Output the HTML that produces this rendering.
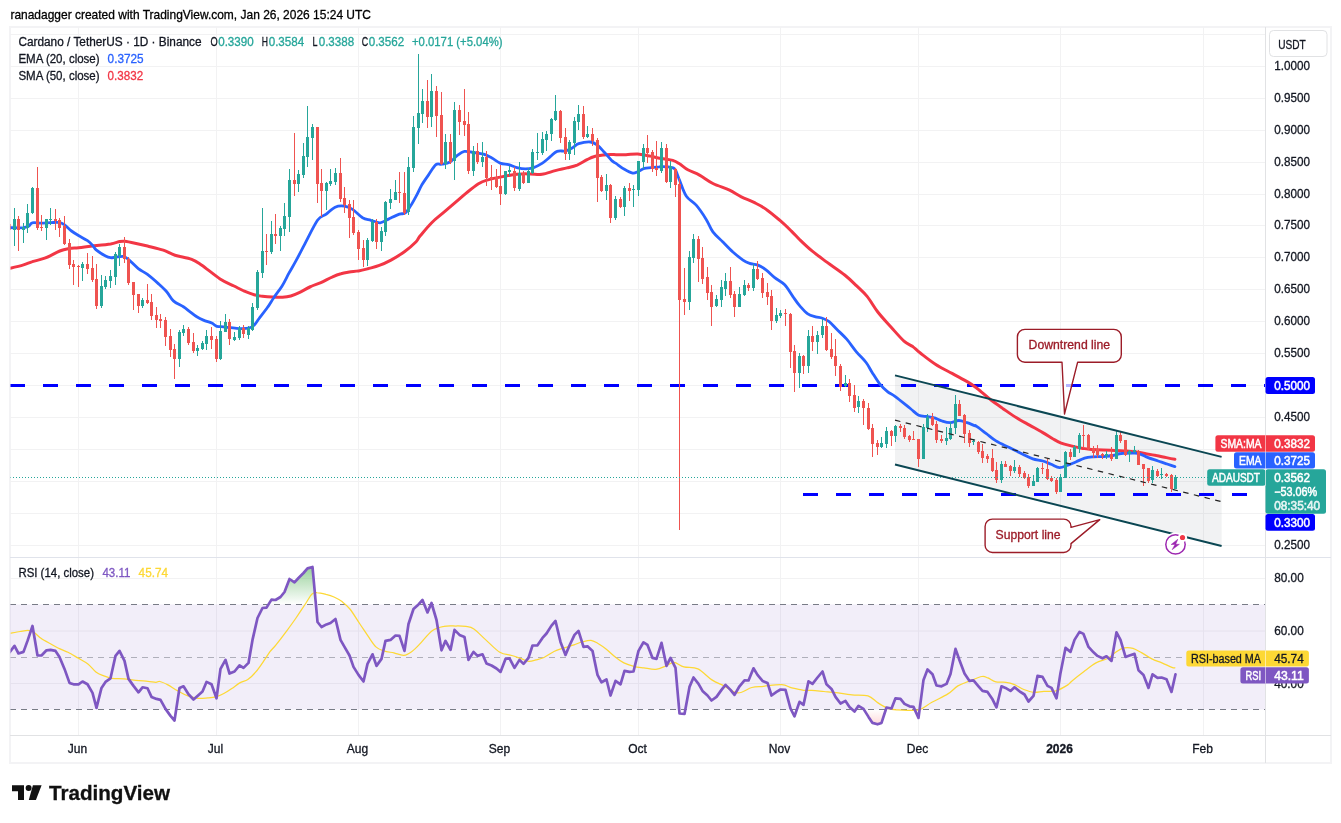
<!DOCTYPE html>
<html lang="en"><head><meta charset="utf-8"><title>ADAUSDT chart</title><style>html,body{margin:0;padding:0;background:#fff}svg{display:block}</style></head><body>
<svg width="1341" height="823" viewBox="0 0 1341 823" font-family='"Liberation Sans", Arial, sans-serif'>
<defs><clipPath id="cm"><rect x="10.5" y="27.5" width="1255" height="530"/></clipPath><clipPath id="cr"><rect x="10.5" y="558" width="1255" height="177.5"/></clipPath>
<linearGradient id="gg" x1="0" y1="565" x2="0" y2="604.5" gradientUnits="userSpaceOnUse"><stop offset="0" stop-color="#4caf50" stop-opacity="0.6"/><stop offset="1" stop-color="#4caf50" stop-opacity="0"/></linearGradient>
<linearGradient id="rg" x1="0" y1="709.5" x2="0" y2="730" gradientUnits="userSpaceOnUse"><stop offset="0" stop-color="#ff5252" stop-opacity="0"/><stop offset="1" stop-color="#ff5252" stop-opacity="0.3"/></linearGradient></defs>
<rect width="1341" height="823" fill="#fff"/>
<rect x="10" y="27" width="1321" height="736" fill="none" stroke="#f3f3f5" stroke-width="2"/>
<text x="10.4" y="19" font-size="13" fill="#000" stroke="#000" stroke-width="0.3" text-anchor="start" font-weight="normal" textLength="360.6" lengthAdjust="spacingAndGlyphs">ranadagger created with TradingView.com, Jan 26, 2026 15:24 UTC</text>
<path d="M78.5,27V735.5M216.5,27V735.5M358.5,27V735.5M500.5,27V735.5M638.5,27V735.5M780.5,27V735.5M918.5,27V735.5M1060.5,27V735.5M1203.5,27V735.5M10,34.5H1265.5M10,66.5H1265.5M10,98.5H1265.5M10,130.5H1265.5M10,162.5H1265.5M10,194.5H1265.5M10,225.5H1265.5M10,257.5H1265.5M10,289.5H1265.5M10,321.5H1265.5M10,353.5H1265.5M10,385.5H1265.5M10,417.5H1265.5M10,449.5H1265.5M10,481.5H1265.5M10,513.5H1265.5M10,545.5H1265.5M10,578.5H1265.5M10,631.0H1265.5M10,683.5H1265.5" stroke="#f2f2f3" stroke-width="1" fill="none"/>
<rect x="10" y="604.5" width="1255.5" height="105.0" fill="#7e57c2" fill-opacity="0.1"/>
<path d="M895,375.4L1221.6,456.9L1221.6,546.0L895,464.5Z" fill="#787b86" fill-opacity="0.1"/>
<g clip-path="url(#cm)">
<path d="M10,385.5H1265.5" stroke="#0000ff" stroke-width="3" stroke-dasharray="15 18" fill="none"/>
<path d="M803,494.5H1265.5" stroke="#0000ff" stroke-width="3" stroke-dasharray="15 18" fill="none"/>
<path d="M10.3,268.2C12.5,267.7 19.9,266.0 23.5,264.9C27.2,263.8 28.9,262.7 32.4,261.6C35.9,260.4 40.2,260.0 44.7,258.2C49.3,256.5 55.7,252.7 59.8,251.0C63.9,249.4 66.2,249.1 69.3,248.5C72.4,248.0 74.6,248.1 78.5,247.7C82.4,247.3 87.2,246.7 92.5,246.0C97.9,245.4 106.0,244.6 110.6,243.9C115.1,243.1 117.5,241.9 119.9,241.5C122.3,241.1 122.4,241.1 124.9,241.3C127.4,241.6 131.2,242.4 135.0,243.2C138.7,244.0 142.7,244.9 147.5,246.0C152.2,247.2 158.8,248.7 163.3,250.2C167.9,251.7 170.3,253.7 175.0,255.2C179.8,256.7 187.3,257.7 191.7,259.4C196.2,261.1 197.0,262.0 201.8,265.2C206.5,268.5 214.8,275.5 220.1,278.9C225.5,282.4 230.0,284.0 234.0,286.0C238.0,288.0 240.7,289.5 244.0,291.0C247.4,292.4 251.0,293.9 254.1,294.8C257.1,295.7 259.4,295.9 262.4,296.3C265.5,296.7 269.1,297.0 272.4,297.1C275.8,297.3 279.4,297.5 282.5,297.3C285.5,297.1 288.0,296.8 290.8,296.0C293.6,295.2 295.8,294.2 299.2,292.6C302.5,291.1 307.2,288.1 310.9,286.5C314.5,284.8 317.3,284.2 320.9,282.6C324.5,281.0 329.2,278.2 332.6,276.8C335.9,275.3 338.1,274.5 340.9,273.8C343.7,273.0 346.4,272.6 349.3,272.1C352.2,271.6 355.4,271.5 358.5,270.9C361.5,270.4 364.2,269.7 367.7,268.8C371.1,267.8 375.4,266.9 379.3,265.4C383.2,264.0 386.9,262.3 391.0,260.1C395.2,257.8 400.2,254.8 404.4,251.7C408.6,248.7 413.5,244.3 416.1,241.7C418.7,239.1 417.4,239.2 420.0,236.0C422.7,232.9 427.8,226.6 431.7,222.7C435.6,218.8 439.5,216.0 443.4,212.7C447.3,209.3 451.2,206.0 455.1,202.6C459.0,199.3 462.9,195.8 466.8,192.6C470.7,189.5 475.2,185.9 478.5,183.8C481.8,181.7 483.2,181.2 486.9,180.1C490.5,179.0 495.2,178.1 500.2,177.1C505.2,176.1 511.9,174.8 516.9,174.2C521.9,173.7 526.1,173.9 530.3,173.9C534.5,173.9 537.8,174.8 542.0,174.2C546.2,173.7 551.2,171.6 555.3,170.6C559.5,169.5 563.4,168.8 567.0,167.9C570.7,167.0 573.7,166.4 577.1,165.1C580.4,163.7 584.3,161.1 587.1,159.7C589.9,158.3 591.0,157.5 593.8,156.7C596.5,155.9 600.7,155.4 603.8,155.0C606.9,154.7 610.1,154.6 612.1,154.5C614.2,154.5 613.7,154.7 616.0,154.7C618.3,154.8 622.4,154.9 626.0,154.7C629.6,154.6 633.8,153.7 637.7,153.9C641.6,154.1 645.5,155.2 649.4,155.9C653.3,156.7 657.2,157.7 661.1,158.4C665.0,159.2 669.7,159.5 672.8,160.4C675.9,161.3 677.0,162.2 679.5,163.8C682.0,165.3 684.5,167.9 687.8,169.8C691.2,171.7 695.3,172.8 699.5,175.1C703.7,177.4 707.9,181.0 712.9,183.5C717.9,186.0 724.9,187.9 729.6,190.1C734.3,192.4 737.1,194.7 741.3,196.8C745.5,198.9 750.5,200.6 754.6,202.7C758.8,204.8 762.2,206.4 766.3,209.4C770.5,212.3 775.5,216.6 779.7,220.2C783.9,223.8 788.0,227.8 791.4,231.1C794.8,234.4 796.6,236.7 800.0,240.0C803.4,243.3 807.2,247.0 811.7,250.7C816.2,254.4 821.7,258.3 827.2,262.4C832.7,266.4 839.8,271.1 844.7,275.0C849.6,278.9 852.7,282.1 856.4,285.7C860.1,289.3 863.5,292.0 867.1,296.4C870.7,300.8 873.8,306.8 877.8,312.0C881.8,317.2 887.0,322.6 891.4,327.5C895.8,332.4 900.4,337.9 904.0,341.1C907.6,344.3 910.1,344.7 912.8,346.6C915.5,348.6 916.2,349.9 920.0,352.8C923.8,355.7 930.0,360.8 935.4,364.2C940.7,367.7 946.5,370.4 952.1,373.4C957.7,376.5 964.6,380.1 968.8,382.6C973.0,385.1 973.4,385.6 977.2,388.5C980.9,391.4 986.8,396.7 991.0,400.0C995.3,403.3 998.6,405.4 1002.7,408.4C1006.9,411.3 1011.6,414.8 1016.1,417.5C1020.5,420.3 1025.0,422.6 1029.5,425.1C1033.9,427.6 1038.9,430.3 1042.8,432.6C1046.7,434.9 1049.8,437.0 1052.8,438.8C1055.9,440.5 1058.1,441.9 1061.2,443.1C1064.3,444.3 1067.6,445.0 1071.2,445.9C1074.8,446.8 1079.3,447.8 1082.9,448.4C1086.5,449.1 1089.6,449.3 1092.9,449.6C1096.3,449.9 1099.3,450.0 1103.0,450.1C1106.6,450.3 1110.7,450.3 1114.6,450.4C1118.5,450.6 1122.7,450.7 1126.3,450.9C1130.0,451.2 1133.0,451.6 1136.4,452.1C1139.7,452.6 1143.0,453.2 1146.4,453.8C1149.7,454.3 1153.1,454.8 1156.4,455.5C1159.7,456.1 1163.3,457.0 1166.4,457.6C1169.5,458.3 1173.5,459.0 1174.9,459.2" stroke="#f23645" stroke-width="3" fill="none" stroke-linejoin="round" stroke-linecap="round"/>
<path d="M10.3,227.7C12.5,227.7 20.4,227.9 23.5,227.7C26.6,227.4 27.4,226.8 28.9,226.0C30.4,225.2 30.3,223.3 32.4,222.8C34.5,222.3 38.4,223.2 41.4,223.1C44.4,223.1 47.5,222.7 50.6,222.6C53.7,222.6 57.4,222.2 59.8,222.6C62.1,223.1 62.8,223.8 64.8,225.1C66.7,226.5 69.2,229.3 71.5,231.0C73.8,232.7 75.8,233.9 78.5,235.5C81.2,237.1 85.2,239.1 87.5,240.7C89.8,242.3 91.0,243.6 92.5,245.2C94.0,246.8 94.4,248.4 96.5,250.2C98.7,252.0 103.2,254.8 105.6,256.0C107.9,257.3 108.9,257.5 110.6,257.7C112.2,257.9 113.3,257.4 115.4,257.2C117.5,257.0 121.1,256.2 123.3,256.5C125.4,256.9 125.9,257.4 128.4,259.4C130.9,261.4 135.1,266.1 138.3,268.6C141.5,271.1 144.1,271.9 147.5,274.4C150.8,276.9 155.1,280.7 158.3,283.6C161.5,286.5 164.2,288.9 166.7,291.7C169.2,294.6 170.6,298.4 173.4,300.9C176.2,303.4 180.6,305.0 183.4,306.8C186.2,308.6 187.8,310.1 190.1,311.8C192.3,313.5 194.5,315.4 196.8,316.8C199.0,318.2 200.9,319.1 203.4,320.1C205.9,321.2 209.6,322.1 211.8,323.1C214.0,324.2 214.9,325.7 216.8,326.3C218.7,326.9 221.2,326.6 223.5,326.8C225.8,327.0 228.0,327.4 230.7,327.7C233.4,328.0 236.6,328.5 239.5,328.6C242.5,328.6 246.1,328.8 248.6,328.2C251.0,327.7 252.3,326.8 254.1,325.2C255.8,323.6 256.8,321.6 259.1,318.5C261.4,315.5 265.5,310.3 267.9,306.8C270.4,303.4 271.4,301.1 273.8,297.7C276.1,294.2 279.6,290.0 282.1,286.0C284.6,281.9 286.6,277.5 288.8,273.4C291.0,269.4 293.0,266.3 295.5,261.7C298.0,257.1 300.2,252.8 303.8,245.9C307.5,239.0 313.9,225.5 317.5,220.3C321.2,215.0 323.0,216.6 325.9,214.4C328.8,212.2 332.0,208.6 335.1,207.2C338.1,205.8 341.3,205.7 344.3,206.1C347.2,206.4 349.6,207.5 352.6,209.4C355.7,211.3 359.6,215.9 362.6,217.8C365.7,219.6 368.1,219.4 371.0,220.3C373.9,221.1 377.1,223.0 380.2,222.8C383.2,222.5 386.2,220.0 389.4,218.6C392.6,217.1 396.8,215.0 399.4,214.1C402.0,213.2 403.2,214.4 405.0,213.2C406.8,212.0 408.1,209.8 410.0,206.8C412.0,203.8 414.8,198.7 416.7,195.1C418.7,191.5 419.8,188.4 421.7,185.1C423.7,181.8 426.0,178.5 428.4,175.1C430.8,171.7 433.7,166.5 435.9,164.7C438.1,162.9 439.4,164.7 441.8,164.2C444.1,163.8 447.6,163.4 450.1,162.0C452.6,160.7 454.4,157.7 456.8,155.9C459.2,154.1 461.5,151.9 464.3,151.4C467.1,150.8 470.3,152.1 473.5,152.5C476.7,153.0 480.5,153.3 483.5,154.2C486.6,155.1 489.1,156.6 491.9,158.0C494.7,159.5 497.4,161.9 500.2,163.1C503.0,164.2 505.8,164.0 508.6,164.7C511.4,165.5 514.1,166.9 516.9,167.6C519.7,168.3 522.5,168.9 525.3,168.9C528.1,168.9 530.8,168.5 533.6,167.6C536.4,166.6 539.2,165.2 542.0,163.4C544.8,161.6 547.8,158.7 550.3,156.7C552.8,154.7 554.5,152.3 557.0,151.4C559.5,150.4 562.9,151.4 565.4,150.9C567.9,150.3 569.8,149.2 572.1,148.0C574.3,146.8 575.7,144.7 578.7,143.7C581.8,142.7 587.4,141.8 590.4,142.0C593.5,142.2 594.9,143.4 597.1,145.0C599.3,146.6 601.3,149.0 603.8,151.7C606.3,154.3 610.1,158.9 612.1,160.9C614.2,162.8 614.0,162.0 616.0,163.4C618.0,164.8 621.6,167.7 624.4,169.3C627.1,170.9 630.5,172.7 632.7,173.1C634.9,173.5 635.8,172.6 637.7,171.8C639.7,171.0 642.2,169.1 644.4,168.4C646.6,167.7 648.6,167.9 651.1,167.6C653.6,167.3 656.9,166.9 659.4,166.8C661.9,166.6 663.6,166.4 666.1,166.8C668.6,167.1 672.2,166.5 674.5,168.8C676.7,171.0 677.5,175.6 679.5,180.1C681.4,184.7 683.4,191.8 686.2,196.0C688.9,200.2 692.8,201.3 696.2,205.2C699.5,209.1 703.4,214.9 706.2,219.4C709.0,223.8 710.1,228.1 712.9,231.9C715.7,235.7 719.6,238.6 722.9,241.9C726.2,245.3 729.6,248.9 732.9,252.0C736.3,255.0 740.2,258.1 743.0,260.1C745.7,262.0 747.1,262.6 749.6,263.4C752.1,264.2 755.2,264.0 758.0,265.1C760.8,266.2 763.6,268.0 766.3,270.1C769.1,272.2 771.6,275.1 774.7,277.6C777.7,280.0 781.6,281.6 784.7,284.8C787.8,288.0 790.5,293.3 793.1,296.8C795.6,300.4 797.5,303.3 800.0,306.1C802.5,308.9 805.2,312.1 807.8,313.9C810.4,315.7 813.2,316.1 815.6,316.8C818.0,317.5 820.1,317.4 822.4,318.2C824.7,319.0 826.8,319.8 829.2,321.7C831.6,323.6 834.1,326.6 837.0,329.5C839.9,332.4 843.5,335.5 846.7,339.2C849.9,342.9 853.2,347.9 856.4,351.8C859.6,355.7 863.5,359.1 866.1,362.5C868.7,365.9 869.7,368.6 872.0,372.2C874.3,375.8 877.1,380.6 879.7,383.9C882.3,387.1 884.9,389.6 887.5,391.7C890.1,393.8 891.5,393.8 895.3,396.6C899.1,399.4 906.4,405.4 910.3,408.5C914.2,411.6 915.9,413.9 918.7,415.2C921.5,416.5 924.5,416.1 927.0,416.5C929.5,416.9 931.2,416.9 933.7,417.7C936.2,418.4 939.3,420.2 942.1,421.0C944.9,421.9 947.6,422.8 950.4,422.7C953.2,422.6 956.0,420.5 958.8,420.5C961.6,420.5 964.3,421.8 967.1,422.7C969.9,423.6 974.0,425.5 975.5,426.0C977.0,426.6 974.2,424.7 976.0,425.9C977.8,427.1 982.7,430.9 986.0,433.4C989.4,435.9 992.1,438.6 996.0,440.9C999.9,443.3 1005.0,445.4 1009.4,447.6C1013.9,449.8 1018.9,452.4 1022.8,454.3C1026.7,456.2 1029.5,457.7 1032.8,458.8C1036.1,459.9 1039.8,460.1 1042.8,461.0C1045.9,461.9 1048.4,463.2 1051.2,464.3C1054.0,465.4 1056.7,467.5 1059.5,467.7C1062.3,467.8 1065.1,466.1 1067.9,465.1C1070.7,464.2 1073.4,463.0 1076.2,461.8C1079.0,460.6 1081.8,459.0 1084.6,458.1C1087.4,457.3 1089.9,457.1 1092.9,456.8C1096.0,456.5 1099.6,456.7 1103.0,456.5C1106.3,456.2 1109.9,456.0 1113.0,455.5C1116.0,455.0 1118.0,453.8 1121.3,453.5C1124.7,453.1 1130.0,453.1 1133.0,453.1C1136.1,453.2 1137.2,453.0 1139.7,453.8C1142.2,454.5 1145.0,456.4 1148.1,457.6C1151.1,458.8 1155.0,459.9 1158.1,461.0C1161.1,462.0 1163.6,462.9 1166.4,463.8C1169.2,464.8 1173.5,466.2 1174.9,466.6" stroke="#2962ff" stroke-width="2.8" fill="none" stroke-linejoin="round" stroke-linecap="round"/>
<path d="M14.5,208.0V246.0M23.5,223.0V243.0M27.5,204.0V233.0M32.5,187.0V214.0M46.5,219.0V240.0M50.5,208.0V225.0M82.5,262.0V281.0M101.5,275.0V308.0M105.5,276.0V289.0M110.5,270.0V288.0M115.5,252.0V285.0M119.5,244.0V266.0M142.5,298.0V308.0M179.5,330.0V367.0M183.5,325.0V336.0M197.5,345.0V356.0M202.5,341.0V350.0M206.5,330.0V350.0M220.5,321.0V360.0M225.5,314.0V332.0M234.5,332.0V341.0M239.5,326.0V340.0M248.5,326.0V339.0M252.5,303.0V331.0M257.5,270.0V310.0M262.5,208.0V278.0M271.5,221.0V254.0M280.5,226.0V251.0M284.5,203.0V236.0M289.5,169.0V232.0M298.5,170.0V192.0M303.5,143.0V178.0M307.5,106.0V167.0M312.5,124.0V160.0M326.5,182.0V210.0M330.5,169.0V186.0M335.5,168.0V185.0M367.5,238.0V266.0M372.5,219.0V242.0M381.5,227.0V251.0M385.5,201.0V236.0M390.5,189.0V209.0M395.5,180.0V200.0M408.5,157.0V215.0M413.5,116.0V172.0M418.5,54.0V144.0M422.5,89.0V123.0M431.5,74.0V127.0M445.5,134.0V169.0M454.5,102.0V180.0M473.5,146.0V176.0M482.5,142.0V167.0M505.5,171.0V195.0M509.5,166.0V176.0M519.5,162.0V191.0M528.5,168.0V183.0M532.5,149.0V174.0M537.5,133.0V160.0M542.5,132.0V155.0M546.5,131.0V151.0M551.5,118.0V141.0M555.5,95.0V121.0M569.5,140.0V160.0M574.5,117.0V155.0M578.5,105.0V130.0M587.5,126.0V138.0M606.5,174.0V200.0M615.5,196.0V220.0M624.5,186.0V216.0M633.5,185.0V207.0M638.5,161.0V196.0M643.5,144.0V169.0M661.5,142.0V173.0M670.5,161.0V188.0M689.5,251.0V310.0M693.5,234.0V263.0M716.5,295.0V307.0M721.5,280.0V307.0M725.5,273.0V296.0M739.5,287.0V307.0M744.5,280.0V296.0M753.5,264.0V291.0M776.5,308.0V323.0M780.5,310.0V318.0M799.5,353.0V388.0M808.5,330.0V373.0M817.5,331.0V354.0M822.5,319.0V338.0M845.5,375.0V387.0M858.5,396.0V413.0M881.5,437.0V448.0M886.5,427.0V448.0M895.5,425.0V442.0M923.5,424.0V459.0M927.5,414.0V432.0M946.5,427.0V445.0M950.5,422.0V440.0M955.5,395.0V434.0M973.5,439.0V445.0M1001.5,461.0V483.0M1014.5,460.0V473.0M1033.5,475.0V486.0M1037.5,467.0V482.0M1060.5,474.0V492.0M1065.5,451.0V478.0M1074.5,445.0V457.0M1079.5,433.0V453.0M1106.5,451.0V459.0M1116.5,431.0V459.0M1129.5,450.0V462.0M1134.5,446.0V453.0M1152.5,466.0V483.0M1161.5,468.0V479.0M1175.5,475.0V489.0" stroke="#26a69a" stroke-width="1" fill="none"/>
<path d="M9.5,220.0V231.0M18.5,216.0V251.0M37.5,167.0V230.0M41.5,215.0V231.0M55.5,209.0V230.0M59.5,218.0V237.0M64.5,216.0V245.0M69.5,239.0V269.0M73.5,260.0V285.0M78.5,265.0V287.0M87.5,253.0V274.0M92.5,256.0V282.0M96.5,264.0V309.0M124.5,237.0V263.0M128.5,257.0V285.0M133.5,282.0V310.0M138.5,294.0V313.0M147.5,284.0V304.0M151.5,294.0V320.0M156.5,307.0V328.0M160.5,314.0V328.0M165.5,317.0V346.0M170.5,329.0V357.0M174.5,344.0V379.0M188.5,327.0V345.0M193.5,333.0V353.0M211.5,327.0V349.0M216.5,336.0V362.0M229.5,319.0V345.0M243.5,325.0V338.0M266.5,234.0V265.0M275.5,214.0V244.0M294.5,133.0V196.0M317.5,127.0V203.0M321.5,169.0V217.0M340.5,158.0V202.0M344.5,187.0V213.0M349.5,200.0V238.0M353.5,200.0V235.0M358.5,230.0V260.0M363.5,240.0V267.0M376.5,219.0V249.0M399.5,172.0V203.0M404.5,172.0V215.0M427.5,80.0V128.0M436.5,86.0V137.0M441.5,92.0V165.0M450.5,134.0V164.0M459.5,105.0V135.0M464.5,89.0V136.0M468.5,112.0V174.0M477.5,143.0V164.0M486.5,151.0V186.0M491.5,165.0V190.0M496.5,169.0V188.0M500.5,165.0V205.0M514.5,167.0V191.0M523.5,171.0V184.0M560.5,110.0V143.0M565.5,128.0V160.0M583.5,106.0V139.0M592.5,128.0V146.0M597.5,138.0V202.0M601.5,175.0V192.0M610.5,184.0V223.0M620.5,197.0V208.0M629.5,183.0V201.0M647.5,135.0V163.0M652.5,150.0V172.0M656.5,141.0V176.0M666.5,144.0V183.0M675.5,168.0V197.0M679.5,178.0V530.0M684.5,268.0V315.0M698.5,236.0V282.0M702.5,247.0V284.0M707.5,267.0V300.0M711.5,285.0V326.0M730.5,267.0V298.0M734.5,291.0V317.0M748.5,283.0V291.0M757.5,261.0V280.0M762.5,273.0V298.0M767.5,283.0V305.0M771.5,290.0V330.0M785.5,309.0V326.0M790.5,313.0V368.0M794.5,345.0V392.0M803.5,355.0V374.0M812.5,326.0V351.0M826.5,317.0V351.0M831.5,333.0V359.0M835.5,339.0V376.0M840.5,364.0V391.0M849.5,379.0V402.0M854.5,385.0V412.0M863.5,399.0V425.0M868.5,403.0V430.0M872.5,424.0V457.0M877.5,440.0V455.0M891.5,430.0V446.0M900.5,424.0V432.0M904.5,425.0V439.0M909.5,435.0V442.0M913.5,431.0V440.0M918.5,439.0V467.0M932.5,413.0V426.0M936.5,421.0V443.0M941.5,435.0V443.0M959.5,400.0V416.0M964.5,414.0V443.0M969.5,430.0V447.0M978.5,441.0V454.0M982.5,444.0V463.0M987.5,454.0V463.0M992.5,449.0V472.0M996.5,462.0V483.0M1005.5,461.0V467.0M1010.5,465.0V476.0M1019.5,465.0V477.0M1024.5,471.0V479.0M1028.5,474.0V488.0M1042.5,463.0V474.0M1047.5,459.0V480.0M1051.5,476.0V482.0M1056.5,478.0V494.0M1070.5,449.0V460.0M1083.5,425.0V448.0M1088.5,434.0V450.0M1093.5,446.0V458.0M1097.5,445.0V458.0M1102.5,453.0V459.0M1111.5,447.0V461.0M1120.5,431.0V443.0M1125.5,440.0V456.0M1138.5,450.0V465.0M1143.5,464.0V486.0M1148.5,468.0V483.0M1157.5,469.0V477.0M1166.5,473.0V477.0M1171.5,474.0V492.0" stroke="#ef5350" stroke-width="1" fill="none"/>
<path d="M13.0,219.0h3V230.0h-3ZM22.0,227.0h3V230.0h-3ZM26.0,213.0h3V228.0h-3ZM31.0,188.0h3V213.0h-3ZM45.0,219.0h3V228.0h-3ZM49.0,219.0h3V220.0h-3ZM81.0,264.0h3V268.0h-3ZM100.0,286.0h3V306.0h-3ZM104.0,280.0h3V287.0h-3ZM109.0,276.0h3V281.0h-3ZM114.0,254.0h3V277.0h-3ZM118.0,247.0h3V256.0h-3ZM141.0,300.0h3V306.0h-3ZM178.0,332.0h3V359.0h-3ZM182.0,329.0h3V333.0h-3ZM196.0,348.0h3V351.0h-3ZM201.0,343.0h3V349.0h-3ZM205.0,336.0h3V344.0h-3ZM219.0,331.0h3V359.0h-3ZM224.0,322.0h3V332.0h-3ZM233.0,337.0h3V340.0h-3ZM238.0,328.0h3V338.0h-3ZM247.0,328.0h3V335.0h-3ZM251.0,307.0h3V330.0h-3ZM256.0,272.0h3V308.0h-3ZM261.0,251.0h3V273.0h-3ZM270.0,234.0h3V252.0h-3ZM279.0,228.0h3V236.0h-3ZM283.0,216.0h3V229.0h-3ZM288.0,180.0h3V217.0h-3ZM297.0,174.0h3V184.0h-3ZM302.0,156.0h3V175.0h-3ZM306.0,137.0h3V157.0h-3ZM311.0,127.0h3V138.0h-3ZM325.0,183.0h3V191.0h-3ZM329.0,181.0h3V184.0h-3ZM334.0,173.0h3V182.0h-3ZM366.0,240.0h3V260.0h-3ZM371.0,222.0h3V241.0h-3ZM380.0,231.0h3V242.0h-3ZM384.0,202.0h3V232.0h-3ZM389.0,199.0h3V203.0h-3ZM394.0,192.0h3V200.0h-3ZM407.0,167.0h3V212.0h-3ZM412.0,127.0h3V168.0h-3ZM417.0,113.0h3V128.0h-3ZM421.0,101.0h3V114.0h-3ZM430.0,91.0h3V117.0h-3ZM444.0,142.0h3V164.0h-3ZM453.0,110.0h3V161.0h-3ZM472.0,151.0h3V171.0h-3ZM481.0,157.0h3V162.0h-3ZM504.0,171.0h3V194.0h-3ZM508.0,170.0h3V172.0h-3ZM518.0,173.0h3V189.0h-3ZM527.0,171.0h3V183.0h-3ZM531.0,152.0h3V173.0h-3ZM536.0,152.0h3V153.0h-3ZM541.0,139.0h3V153.0h-3ZM545.0,134.0h3V140.0h-3ZM550.0,119.0h3V134.0h-3ZM554.0,111.0h3V120.0h-3ZM568.0,142.0h3V154.0h-3ZM573.0,121.0h3V143.0h-3ZM577.0,114.0h3V122.0h-3ZM586.0,134.0h3V137.0h-3ZM605.0,185.0h3V191.0h-3ZM614.0,199.0h3V218.0h-3ZM623.0,188.0h3V207.0h-3ZM632.0,189.0h3V190.0h-3ZM637.0,161.0h3V190.0h-3ZM642.0,148.0h3V162.0h-3ZM660.0,148.0h3V171.0h-3ZM669.0,166.0h3V182.0h-3ZM688.0,257.0h3V302.0h-3ZM692.0,239.0h3V258.0h-3ZM715.0,299.0h3V306.0h-3ZM720.0,287.0h3V300.0h-3ZM724.0,281.0h3V289.0h-3ZM738.0,294.0h3V307.0h-3ZM743.0,285.0h3V295.0h-3ZM752.0,269.0h3V288.0h-3ZM775.0,315.0h3V321.0h-3ZM779.0,313.0h3V316.0h-3ZM798.0,356.0h3V373.0h-3ZM807.0,336.0h3V366.0h-3ZM816.0,335.0h3V342.0h-3ZM821.0,326.0h3V335.0h-3ZM844.0,383.0h3V386.0h-3ZM857.0,401.0h3V407.0h-3ZM880.0,443.0h3V447.0h-3ZM885.0,431.0h3V444.0h-3ZM894.0,426.0h3V436.0h-3ZM922.0,427.0h3V459.0h-3ZM926.0,417.0h3V428.0h-3ZM945.0,438.0h3V441.0h-3ZM949.0,428.0h3V439.0h-3ZM954.0,404.0h3V428.0h-3ZM972.0,441.0h3V442.0h-3ZM1000.0,464.0h3V480.0h-3ZM1013.0,467.0h3V471.0h-3ZM1032.0,481.0h3V486.0h-3ZM1036.0,468.0h3V482.0h-3ZM1059.0,477.0h3V492.0h-3ZM1064.0,452.0h3V478.0h-3ZM1073.0,447.0h3V457.0h-3ZM1078.0,435.0h3V449.0h-3ZM1105.0,454.0h3V456.0h-3ZM1115.0,435.0h3V459.0h-3ZM1128.0,451.0h3V454.0h-3ZM1133.0,450.0h3V452.0h-3ZM1151.0,470.0h3V480.0h-3ZM1160.0,474.0h3V475.0h-3ZM1174.0,477.0h3V489.0h-3Z" fill="#26a69a"/>
<path d="M8.0,224.0h3V230.0h-3ZM17.0,219.0h3V230.0h-3ZM36.0,188.0h3V228.0h-3ZM40.0,227.0h3V228.0h-3ZM54.0,219.0h3V221.0h-3ZM58.0,220.0h3V228.0h-3ZM63.0,226.0h3V244.0h-3ZM68.0,243.0h3V265.0h-3ZM72.0,264.0h3V267.0h-3ZM77.0,266.0h3V267.0h-3ZM86.0,264.0h3V269.0h-3ZM91.0,268.0h3V280.0h-3ZM95.0,279.0h3V306.0h-3ZM123.0,247.0h3V259.0h-3ZM127.0,259.0h3V283.0h-3ZM132.0,282.0h3V295.0h-3ZM137.0,294.0h3V306.0h-3ZM146.0,300.0h3V303.0h-3ZM150.0,302.0h3V316.0h-3ZM155.0,315.0h3V320.0h-3ZM159.0,319.0h3V321.0h-3ZM164.0,320.0h3V337.0h-3ZM169.0,336.0h3V350.0h-3ZM173.0,349.0h3V359.0h-3ZM187.0,329.0h3V343.0h-3ZM192.0,342.0h3V351.0h-3ZM210.0,336.0h3V340.0h-3ZM215.0,339.0h3V359.0h-3ZM228.0,322.0h3V339.0h-3ZM242.0,328.0h3V334.0h-3ZM265.0,251.0h3V252.0h-3ZM274.0,234.0h3V236.0h-3ZM293.0,180.0h3V184.0h-3ZM316.0,127.0h3V184.0h-3ZM320.0,183.0h3V191.0h-3ZM339.0,173.0h3V199.0h-3ZM343.0,198.0h3V205.0h-3ZM348.0,204.0h3V218.0h-3ZM352.0,217.0h3V233.0h-3ZM357.0,232.0h3V249.0h-3ZM362.0,248.0h3V260.0h-3ZM375.0,222.0h3V242.0h-3ZM398.0,192.0h3V193.0h-3ZM403.0,193.0h3V213.0h-3ZM426.0,101.0h3V117.0h-3ZM435.0,91.0h3V116.0h-3ZM440.0,115.0h3V164.0h-3ZM449.0,142.0h3V162.0h-3ZM458.0,110.0h3V122.0h-3ZM463.0,121.0h3V125.0h-3ZM467.0,124.0h3V171.0h-3ZM476.0,151.0h3V162.0h-3ZM485.0,157.0h3V178.0h-3ZM490.0,177.0h3V179.0h-3ZM495.0,177.0h3V187.0h-3ZM499.0,186.0h3V194.0h-3ZM513.0,171.0h3V188.0h-3ZM522.0,173.0h3V183.0h-3ZM559.0,111.0h3V138.0h-3ZM564.0,137.0h3V154.0h-3ZM582.0,114.0h3V137.0h-3ZM591.0,134.0h3V141.0h-3ZM596.0,140.0h3V178.0h-3ZM600.0,177.0h3V191.0h-3ZM609.0,185.0h3V218.0h-3ZM619.0,199.0h3V207.0h-3ZM628.0,188.0h3V191.0h-3ZM646.0,148.0h3V153.0h-3ZM651.0,152.0h3V169.0h-3ZM655.0,168.0h3V170.0h-3ZM665.0,148.0h3V182.0h-3ZM674.0,169.0h3V185.0h-3ZM678.0,184.0h3V300.0h-3ZM683.0,299.0h3V302.0h-3ZM697.0,239.0h3V259.0h-3ZM701.0,258.0h3V279.0h-3ZM706.0,277.0h3V293.0h-3ZM710.0,292.0h3V307.0h-3ZM729.0,281.0h3V295.0h-3ZM733.0,294.0h3V307.0h-3ZM747.0,285.0h3V288.0h-3ZM756.0,269.0h3V279.0h-3ZM761.0,278.0h3V293.0h-3ZM766.0,292.0h3V297.0h-3ZM770.0,296.0h3V321.0h-3ZM784.0,313.0h3V314.0h-3ZM789.0,314.0h3V352.0h-3ZM793.0,351.0h3V373.0h-3ZM802.0,356.0h3V366.0h-3ZM811.0,336.0h3V342.0h-3ZM825.0,326.0h3V350.0h-3ZM830.0,349.0h3V357.0h-3ZM834.0,356.0h3V366.0h-3ZM839.0,366.0h3V387.0h-3ZM848.0,383.0h3V396.0h-3ZM853.0,395.0h3V408.0h-3ZM862.0,401.0h3V408.0h-3ZM867.0,408.0h3V429.0h-3ZM871.0,428.0h3V444.0h-3ZM876.0,443.0h3V447.0h-3ZM890.0,431.0h3V436.0h-3ZM899.0,426.0h3V428.0h-3ZM903.0,428.0h3V437.0h-3ZM908.0,436.0h3V440.0h-3ZM912.0,439.0h3V440.0h-3ZM917.0,439.0h3V459.0h-3ZM931.0,417.0h3V425.0h-3ZM935.0,424.0h3V440.0h-3ZM940.0,439.0h3V441.0h-3ZM958.0,404.0h3V416.0h-3ZM963.0,415.0h3V434.0h-3ZM968.0,433.0h3V443.0h-3ZM977.0,442.0h3V452.0h-3ZM981.0,451.0h3V458.0h-3ZM986.0,456.0h3V459.0h-3ZM991.0,458.0h3V471.0h-3ZM995.0,470.0h3V480.0h-3ZM1004.0,464.0h3V467.0h-3ZM1009.0,466.0h3V471.0h-3ZM1018.0,467.0h3V474.0h-3ZM1023.0,473.0h3V478.0h-3ZM1027.0,477.0h3V486.0h-3ZM1041.0,468.0h3V469.0h-3ZM1046.0,469.0h3V479.0h-3ZM1050.0,478.0h3V481.0h-3ZM1055.0,480.0h3V492.0h-3ZM1069.0,452.0h3V457.0h-3ZM1082.0,435.0h3V436.0h-3ZM1087.0,435.0h3V449.0h-3ZM1092.0,448.0h3V453.0h-3ZM1096.0,449.0h3V455.0h-3ZM1101.0,454.0h3V456.0h-3ZM1110.0,454.0h3V459.0h-3ZM1119.0,435.0h3V441.0h-3ZM1124.0,440.0h3V455.0h-3ZM1137.0,451.0h3V465.0h-3ZM1142.0,464.0h3V469.0h-3ZM1147.0,468.0h3V481.0h-3ZM1156.0,471.0h3V476.0h-3ZM1165.0,474.0h3V476.0h-3ZM1170.0,475.0h3V489.0h-3Z" fill="#ef5350"/>
<path d="M10,477.5H1265.5" stroke="#26a69a" stroke-width="1" stroke-dasharray="1 2" fill="none"/>
<path d="M895,375.4L1221.6,456.9M895,464.5L1221.6,546.0" stroke="#0b4753" stroke-width="2" fill="none"/>
<path d="M895,420.2L1221.6,501.7" stroke="#222" stroke-width="1.2" stroke-dasharray="5.5 5.5" fill="none"/>
<path d="M1024.9,329.4H1113.8a7.5,7.5 0 0 1 7.5,7.5V354.8a7.5,7.5 0 0 1 -7.5,7.5H1077.6L1064.5,414L1062,362.3H1024.9a7.5,7.5 0 0 1 -7.5,-7.5V336.9a7.5,7.5 0 0 1 7.5,-7.5Z" fill="#fff" fill-opacity="0.7" stroke="#9c1c28" stroke-width="1.4" stroke-linejoin="round"/>
<text x="1028.6" y="349" font-size="12" fill="#9c1c28" stroke="#9c1c28" stroke-width="0.3" text-anchor="start" font-weight="normal" textLength="81.5" lengthAdjust="spacingAndGlyphs">Downtrend line</text>
<path d="M992.4,519.1H1063.7a7.3,7.3 0 0 1 7.3,7.3V527.4L1099.8,519.6L1071,543.6V545.2a7.3,7.3 0 0 1 -7.3,7.3H992.4a7.3,7.3 0 0 1 -7.3,-7.3V526.4a7.3,7.3 0 0 1 7.3,-7.3Z" fill="#fff" fill-opacity="0.7" stroke="#9c1c28" stroke-width="1.4" stroke-linejoin="round"/>
<text x="995.6" y="538.6" font-size="12" fill="#9c1c28" stroke="#9c1c28" stroke-width="0.3" text-anchor="start" font-weight="normal" textLength="65" lengthAdjust="spacingAndGlyphs">Support line</text>
<circle cx="1175.5" cy="544.4" r="12" fill="#fff"/>
<circle cx="1175.5" cy="544.4" r="9.7" fill="none" stroke="#9c27b0" stroke-width="1.5"/>
<path d="M1177.9,539.2L1171.1,544.5L1175.0,544.5L1172.1,549.7L1179.4,544.3L1175.7,544.3Z" fill="#9c27b0" stroke="#9c27b0" stroke-width="0.5" stroke-linejoin="round"/>
<circle cx="1182.5" cy="537.5" r="4.6" fill="#fff"/><circle cx="1182.5" cy="537.5" r="2.6" fill="#f23645"/>
</g>
<g clip-path="url(#cr)">
<path d="M10,604.5H1265.5" stroke="#787b86" stroke-width="1" stroke-dasharray="6 5" fill="none"/>
<path d="M10,709.5H1265.5" stroke="#787b86" stroke-width="1" stroke-dasharray="6 5" fill="none"/>
<path d="M10,657.5H1265.5" stroke="#787b86" stroke-opacity="0.55" stroke-width="1" stroke-dasharray="6 5" fill="none"/>
<clipPath id="c70"><rect x="10" y="558" width="1255" height="46.4"/></clipPath>
<path d="M266.5,607.6L271.5,599.6L275.5,600.0L280.5,597.0L284.5,592.0L289.5,579.0L294.5,582.4L298.5,578.0L303.5,573.0L307.5,568.4L312.5,567.0L317.5,622.0L317.5,604.5L266.5,604.5Z" fill="url(#gg)" clip-path="url(#c70)"/>
<clipPath id="c30"><rect x="10" y="709.5" width="1255" height="30"/></clipPath>
<path d="M863.5,708.9L868.5,716.9L872.5,722.9L877.5,724.3L881.5,722.9L886.5,707.5L886.5,709.5L863.5,709.5Z" fill="url(#rg)" clip-path="url(#c30)"/>
<path d="M10.4,633.3C12.0,633.0 17.1,632.0 20.0,631.5C22.9,631.0 25.7,630.2 28.0,630.3C30.3,630.5 31.8,631.0 34.0,632.3C36.1,633.7 38.3,636.5 41.0,638.3C43.6,640.2 46.8,641.8 50.0,643.5C53.1,645.3 57.0,647.5 60.0,648.9C63.0,650.4 65.0,650.8 68.0,652.3C71.0,653.8 74.6,656.0 77.9,657.9C81.3,659.9 84.9,661.6 87.9,663.9C90.9,666.3 93.3,669.9 95.9,671.9C98.6,673.9 101.3,674.8 103.9,675.9C106.6,677.0 108.6,677.8 111.9,678.3C115.3,678.8 119.9,678.6 123.9,678.9C127.9,679.2 131.9,679.9 135.9,680.3C139.9,680.7 144.6,681.0 147.9,681.3C151.2,681.6 153.9,682.3 155.9,682.3C157.9,682.3 157.9,681.1 159.9,681.5C161.9,681.9 164.9,683.3 167.9,684.9C170.9,686.5 174.5,689.1 177.9,690.9C181.2,692.7 184.5,694.7 187.9,695.9C191.2,697.1 194.5,698.0 197.9,698.3C201.2,698.6 204.9,698.1 207.9,697.9C210.8,697.7 213.2,697.6 215.8,696.9C218.5,696.2 221.2,694.9 223.8,693.5C226.5,692.1 229.2,690.3 231.8,688.5C234.5,686.7 237.2,684.4 239.8,682.9C242.5,681.4 245.2,681.3 247.8,679.5C250.5,677.7 253.2,675.0 255.8,671.9C258.5,668.8 261.5,664.3 263.8,660.9C266.1,657.6 267.8,654.6 269.8,651.9C271.8,649.3 273.3,648.3 276.0,644.9C278.7,641.6 282.7,636.4 286.0,631.9C289.3,627.4 292.7,622.8 296.0,618.0C299.3,613.1 303.3,607.0 306.0,603.0C308.6,599.0 310.1,595.7 312.0,594.0C313.8,592.2 314.6,592.5 317.0,592.6C319.3,592.6 323.1,593.6 326.0,594.4C328.8,595.1 331.3,595.8 334.0,597.0C336.6,598.2 339.3,599.6 342.0,601.6C344.6,603.6 346.9,605.2 349.9,609.0C352.9,612.7 356.9,619.5 359.9,624.0C362.9,628.4 365.3,632.1 367.9,635.9C370.6,639.8 373.3,644.4 375.9,646.9C378.6,649.4 380.9,649.9 383.9,650.9C386.9,651.9 390.6,652.2 393.9,652.9C397.2,653.7 400.9,655.6 403.9,655.3C406.9,655.1 409.2,653.4 411.9,651.5C414.6,649.6 416.6,647.4 419.9,643.9C423.2,640.5 427.9,633.9 431.9,630.9C435.9,628.0 439.9,627.2 443.9,626.4C447.9,625.5 452.2,626.0 455.9,626.0C459.5,626.0 462.9,625.9 465.9,626.4C468.9,626.9 470.5,626.7 473.9,628.9C477.2,631.2 481.5,636.0 485.8,639.9C490.2,643.8 495.5,649.7 499.8,652.3C504.2,654.9 508.2,654.4 511.8,655.5C515.5,656.6 519.0,658.0 521.8,658.9C524.6,659.9 526.5,661.2 528.8,661.3C531.1,661.5 533.3,660.6 535.8,659.9C538.3,659.3 541.0,658.9 544.0,657.5C547.0,656.1 550.7,653.1 554.0,651.5C557.3,649.9 560.7,649.0 564.0,647.9C567.3,646.8 571.0,645.9 574.0,644.9C577.0,643.9 579.1,642.7 582.0,641.9C584.8,641.2 588.3,640.1 591.0,640.3C593.6,640.6 595.5,642.1 598.0,643.5C600.5,645.0 603.0,646.6 606.0,648.9C609.0,651.3 612.9,655.2 615.9,657.5C618.9,659.9 620.9,661.5 623.9,662.9C626.9,664.4 630.6,665.5 633.9,666.3C637.3,667.2 640.3,667.4 643.9,667.9C647.6,668.4 652.3,669.7 655.9,669.3C659.6,669.0 662.9,667.1 665.9,665.9C668.9,664.8 670.9,662.2 673.9,662.3C676.9,662.5 679.9,665.8 683.9,666.9C687.9,668.0 693.2,666.8 697.9,668.9C702.5,671.1 707.5,677.1 711.9,679.9C716.2,682.7 719.5,683.7 723.9,685.9C728.2,688.1 733.2,692.6 737.9,692.9C742.5,693.2 747.5,688.6 751.8,687.5C756.2,686.4 758.8,686.8 763.8,686.3C768.8,685.8 777.2,684.4 781.8,684.7C786.5,685.0 788.2,687.0 791.8,687.9C795.5,688.8 800.4,689.9 803.8,690.3C807.2,690.7 808.6,690.1 812.0,690.3C815.4,690.5 820.0,691.1 824.0,691.5C828.0,691.9 831.3,692.1 836.0,692.7C840.6,693.3 846.6,694.4 852.0,694.9C857.3,695.4 863.6,694.6 868.0,695.9C872.3,697.2 874.6,700.8 878.0,702.9C881.3,705.0 884.6,707.1 887.9,708.3C891.3,709.5 894.3,709.6 897.9,709.9C901.6,710.2 906.3,710.4 909.9,710.3C913.6,710.2 916.3,710.8 919.9,709.5C923.6,708.2 927.2,704.9 931.9,702.3C936.6,699.7 943.6,696.6 947.9,693.9C952.2,691.2 954.2,688.1 957.9,685.9C961.6,683.7 965.9,682.5 969.9,680.9C973.9,679.3 978.9,677.0 981.9,676.5C984.9,676.0 985.5,677.0 987.9,677.9C990.2,678.8 992.9,681.2 995.9,681.9C998.9,682.6 1002.9,681.9 1005.9,682.3C1008.9,682.7 1010.9,683.1 1013.8,684.3C1016.8,685.5 1020.5,688.2 1023.8,689.5C1027.2,690.8 1030.5,692.0 1033.8,692.3C1037.2,692.6 1040.2,691.5 1043.8,691.3C1047.5,691.1 1051.8,692.0 1055.8,690.9C1059.8,689.8 1065.1,686.6 1067.8,684.9C1070.5,683.2 1069.3,683.1 1072.0,680.9C1074.7,678.7 1080.0,674.5 1084.0,671.5C1088.0,668.5 1092.0,665.1 1096.0,662.9C1100.0,660.7 1104.6,660.2 1108.0,658.3C1111.3,656.5 1113.3,653.7 1116.0,651.9C1118.6,650.2 1121.1,648.5 1124.0,647.9C1126.8,647.3 1130.0,647.5 1133.0,648.3C1136.0,649.2 1138.8,651.2 1141.9,652.9C1145.1,654.7 1148.6,657.3 1151.9,658.9C1155.3,660.6 1158.6,661.5 1161.9,662.9C1165.3,664.3 1169.7,666.5 1171.9,667.3C1174.2,668.2 1174.8,667.8 1175.3,667.9" stroke="#fdd835" stroke-width="1.25" fill="none"/>
<path d="M9.5,652.3L14.5,645.9L18.5,653.5L23.5,651.9L27.5,640.9L32.5,626.0L37.5,655.5L41.5,655.5L46.5,650.3L50.5,649.9L55.5,650.9L59.5,656.9L64.5,668.9L69.5,682.9L73.5,684.3L78.5,684.3L82.5,681.5L87.5,684.3L92.5,692.9L96.5,707.9L101.5,687.9L105.5,681.9L110.5,678.3L115.5,655.9L119.5,650.9L124.5,660.9L128.5,678.9L133.5,685.9L138.5,692.3L142.5,687.3L147.5,688.3L151.5,696.9L156.5,698.9L160.5,699.9L165.5,708.9L170.5,715.9L174.5,720.5L179.5,687.9L183.5,686.3L188.5,694.3L193.5,699.5L197.5,695.9L202.5,691.5L206.5,681.9L211.5,684.3L216.5,698.3L220.5,668.9L225.5,659.9L229.5,673.5L234.5,671.5L239.5,665.3L243.5,667.9L248.5,662.9L252.5,639.9L257.5,618.0L262.5,608.0L266.5,607.6L271.5,599.6L275.5,600.0L280.5,597.0L284.5,592.0L289.5,579.0L294.5,582.4L298.5,578.0L303.5,573.0L307.5,568.4L312.5,567.0L317.5,622.0L321.5,627.0L326.5,624.4L330.5,623.0L335.5,619.0L340.5,639.9L344.5,646.9L349.5,655.5L353.5,666.9L358.5,674.9L363.5,681.5L367.5,663.9L372.5,654.3L376.5,665.9L381.5,658.9L385.5,640.9L390.5,639.9L395.5,635.5L399.5,635.9L404.5,650.9L408.5,624.0L413.5,609.0L418.5,604.4L422.5,600.0L427.5,612.4L431.5,603.0L436.5,620.0L441.5,650.3L445.5,640.9L450.5,649.9L454.5,629.9L459.5,634.9L464.5,636.9L468.5,659.9L473.5,651.9L477.5,655.9L482.5,654.3L486.5,663.5L491.5,665.5L496.5,668.5L500.5,671.9L505.5,658.9L509.5,658.3L514.5,667.9L519.5,659.9L523.5,663.9L528.5,657.9L532.5,645.5L537.5,645.3L542.5,637.9L546.5,633.5L551.5,625.6L555.5,621.0L560.5,641.9L565.5,654.9L569.5,645.5L574.5,634.9L578.5,630.9L583.5,646.9L587.5,646.3L592.5,650.9L597.5,674.9L601.5,682.3L606.5,679.5L610.5,695.5L615.5,680.9L620.5,684.3L624.5,670.9L629.5,671.9L633.5,671.5L638.5,650.9L643.5,642.3L647.5,644.9L652.5,657.9L656.5,658.9L661.5,642.9L666.5,665.9L670.5,657.9L675.5,667.9L679.5,713.5L684.5,713.9L689.5,686.9L693.5,677.5L698.5,683.9L702.5,690.9L707.5,695.5L711.5,700.5L716.5,696.9L721.5,689.9L725.5,684.9L730.5,689.9L734.5,694.9L739.5,686.3L744.5,680.3L748.5,680.5L753.5,668.3L757.5,674.9L762.5,680.9L767.5,682.9L771.5,695.5L776.5,691.9L780.5,689.5L785.5,689.9L790.5,708.5L794.5,716.3L799.5,701.9L803.5,704.9L808.5,681.3L812.5,683.9L817.5,677.5L822.5,671.5L826.5,684.3L831.5,688.9L835.5,696.9L840.5,703.5L845.5,700.9L849.5,706.9L854.5,711.5L858.5,705.9L863.5,708.9L868.5,716.9L872.5,722.9L877.5,724.3L881.5,722.9L886.5,707.5L891.5,708.5L895.5,698.3L900.5,698.9L904.5,703.9L909.5,706.3L913.5,706.9L918.5,717.9L923.5,679.9L927.5,669.5L932.5,674.3L936.5,685.5L941.5,686.3L946.5,683.9L950.5,673.9L955.5,648.9L959.5,660.3L964.5,673.5L969.5,680.9L973.5,680.3L978.5,686.3L982.5,690.9L987.5,691.9L992.5,699.3L996.5,707.3L1001.5,686.3L1005.5,687.9L1010.5,690.9L1014.5,687.3L1019.5,691.3L1024.5,694.5L1028.5,701.5L1033.5,695.9L1037.5,675.9L1042.5,676.9L1047.5,685.9L1051.5,687.9L1056.5,698.3L1060.5,672.9L1065.5,647.9L1070.5,651.9L1074.5,639.9L1079.5,631.9L1083.5,633.9L1088.5,646.9L1093.5,652.3L1097.5,655.9L1102.5,658.3L1106.5,656.3L1111.5,660.9L1116.5,632.3L1120.5,639.9L1125.5,656.9L1129.5,655.5L1134.5,653.9L1138.5,670.3L1143.5,674.9L1148.5,687.9L1152.5,674.3L1157.5,677.9L1161.5,677.5L1166.5,679.3L1171.5,691.9L1175.5,674.3" stroke="#7e57c2" stroke-width="2.7" fill="none" stroke-linejoin="round" stroke-linecap="round"/>
</g>
<path d="M10,557.5H1331" stroke="#e0e3eb" stroke-width="1" fill="none"/>
<path d="M1265.5,27V763M10,735.5H1331" stroke="#e1e2e4" stroke-width="1" fill="none"/>
<text x="1274.2" y="69.8" font-size="12" fill="#131722" stroke="#131722" stroke-width="0.3" text-anchor="start" font-weight="normal" textLength="35.7" lengthAdjust="spacingAndGlyphs">1.0000</text>
<text x="1274.2" y="101.8" font-size="12" fill="#131722" stroke="#131722" stroke-width="0.3" text-anchor="start" font-weight="normal" textLength="35.7" lengthAdjust="spacingAndGlyphs">0.9500</text>
<text x="1274.2" y="133.8" font-size="12" fill="#131722" stroke="#131722" stroke-width="0.3" text-anchor="start" font-weight="normal" textLength="35.7" lengthAdjust="spacingAndGlyphs">0.9000</text>
<text x="1274.2" y="165.8" font-size="12" fill="#131722" stroke="#131722" stroke-width="0.3" text-anchor="start" font-weight="normal" textLength="35.7" lengthAdjust="spacingAndGlyphs">0.8500</text>
<text x="1274.2" y="197.8" font-size="12" fill="#131722" stroke="#131722" stroke-width="0.3" text-anchor="start" font-weight="normal" textLength="35.7" lengthAdjust="spacingAndGlyphs">0.8000</text>
<text x="1274.2" y="228.8" font-size="12" fill="#131722" stroke="#131722" stroke-width="0.3" text-anchor="start" font-weight="normal" textLength="35.7" lengthAdjust="spacingAndGlyphs">0.7500</text>
<text x="1274.2" y="260.8" font-size="12" fill="#131722" stroke="#131722" stroke-width="0.3" text-anchor="start" font-weight="normal" textLength="35.7" lengthAdjust="spacingAndGlyphs">0.7000</text>
<text x="1274.2" y="292.8" font-size="12" fill="#131722" stroke="#131722" stroke-width="0.3" text-anchor="start" font-weight="normal" textLength="35.7" lengthAdjust="spacingAndGlyphs">0.6500</text>
<text x="1274.2" y="324.8" font-size="12" fill="#131722" stroke="#131722" stroke-width="0.3" text-anchor="start" font-weight="normal" textLength="35.7" lengthAdjust="spacingAndGlyphs">0.6000</text>
<text x="1274.2" y="356.8" font-size="12" fill="#131722" stroke="#131722" stroke-width="0.3" text-anchor="start" font-weight="normal" textLength="35.7" lengthAdjust="spacingAndGlyphs">0.5500</text>
<text x="1274.2" y="420.8" font-size="12" fill="#131722" stroke="#131722" stroke-width="0.3" text-anchor="start" font-weight="normal" textLength="35.7" lengthAdjust="spacingAndGlyphs">0.4500</text>
<text x="1274.2" y="548.8" font-size="12" fill="#131722" stroke="#131722" stroke-width="0.3" text-anchor="start" font-weight="normal" textLength="35.7" lengthAdjust="spacingAndGlyphs">0.2500</text>
<text x="1274.2" y="581.5" font-size="12" fill="#131722" stroke="#131722" stroke-width="0.3" text-anchor="start" font-weight="normal" textLength="29.5" lengthAdjust="spacingAndGlyphs">80.00</text>
<text x="1274.2" y="634.7" font-size="12" fill="#131722" stroke="#131722" stroke-width="0.3" text-anchor="start" font-weight="normal" textLength="29.5" lengthAdjust="spacingAndGlyphs">60.00</text>
<text x="1274.2" y="687.7" font-size="12" fill="#131722" stroke="#131722" stroke-width="0.3" text-anchor="start" font-weight="normal" textLength="29.5" lengthAdjust="spacingAndGlyphs">40.00</text>
<rect x="1269.5" y="30.5" width="57.5" height="26" rx="4" fill="#fff" stroke="#e1e2e4" stroke-width="1"/>
<text x="1278.2" y="48.8" font-size="12" fill="#131722" stroke="#131722" stroke-width="0.3" text-anchor="start" font-weight="normal" textLength="27.5" lengthAdjust="spacingAndGlyphs">USDT</text>
<rect x="1265.5" y="377" width="49.5" height="17" rx="2.5" fill="#0000ff"/>
<text x="1274.2" y="389.8" font-size="12" fill="#fff" stroke="#fff" stroke-width="0.5" text-anchor="start" font-weight="normal" textLength="35.7" lengthAdjust="spacingAndGlyphs">0.5000</text>
<rect x="1215.4" y="435.2" width="99.59999999999991" height="16.5" rx="2.5" fill="#f23645"/>
<text x="0" y="447.75" font-size="12" fill="#fff" stroke="#fff" stroke-width="0.5" text-anchor="start" font-weight="normal"></text>
<text x="1220.5" y="447.8" font-size="12" fill="#fff" stroke="#fff" stroke-width="0.5" text-anchor="start" font-weight="normal" textLength="41" lengthAdjust="spacingAndGlyphs">SMA:MA</text>
<text x="1274.2" y="447.8" font-size="12" fill="#fff" stroke="#fff" stroke-width="0.5" text-anchor="start" font-weight="normal" textLength="35.7" lengthAdjust="spacingAndGlyphs">0.3832</text>
<rect x="1234" y="452.2" width="81" height="16.19999999999999" rx="2.5" fill="#2962ff"/>
<text x="0" y="464.59999999999997" font-size="12" fill="#fff" stroke="#fff" stroke-width="0.5" text-anchor="start" font-weight="normal"></text>
<text x="1239" y="464.6" font-size="12" fill="#fff" stroke="#fff" stroke-width="0.5" text-anchor="start" font-weight="normal" textLength="22.5" lengthAdjust="spacingAndGlyphs">EMA</text>
<text x="1274.2" y="464.6" font-size="12" fill="#fff" stroke="#fff" stroke-width="0.5" text-anchor="start" font-weight="normal" textLength="35.7" lengthAdjust="spacingAndGlyphs">0.3725</text>
<rect x="1207.2" y="469.2" width="58.299999999999955" height="16.5" rx="2.5" fill="#26a69a"/>
<rect x="1265.5" y="469.2" width="60.5" height="44.599999999999966" rx="2.5" fill="#26a69a"/>
<text x="1212" y="481.7" font-size="12" fill="#fff" stroke="#fff" stroke-width="0.5" text-anchor="start" font-weight="normal" textLength="48" lengthAdjust="spacingAndGlyphs">ADAUSDT</text>
<text x="1274.2" y="481.7" font-size="12" fill="#fff" stroke="#fff" stroke-width="0.5" text-anchor="start" font-weight="normal" textLength="35.7" lengthAdjust="spacingAndGlyphs">0.3562</text>
<text x="1274.2" y="495.9" font-size="12" fill="#fff" stroke="#fff" stroke-width="0.5" text-anchor="start" font-weight="normal" textLength="43" lengthAdjust="spacingAndGlyphs">−53.06%</text>
<text x="1274.2" y="510" font-size="12" fill="#fff" stroke="#fff" stroke-width="0.5" text-anchor="start" font-weight="normal" textLength="46" lengthAdjust="spacingAndGlyphs" fill-opacity="0.75">08:35:40</text>
<rect x="1265.5" y="514.1" width="49.5" height="16.699999999999932" rx="2.5" fill="#0000ff"/>
<text x="1274.2" y="526.75" font-size="12" fill="#fff" stroke="#fff" stroke-width="0.5" text-anchor="start" font-weight="normal" textLength="35.7" lengthAdjust="spacingAndGlyphs">0.3300</text>
<path d="M1265.5,435.2V485.7" stroke="#fff" stroke-opacity="0.55" stroke-width="1"/>
<rect x="1186.3" y="650.4" width="122.60000000000014" height="16.1" rx="2.5" fill="#fdd835"/>
<text x="1191" y="662.8" font-size="12" fill="#131722" stroke="#131722" stroke-width="0.3" text-anchor="start" font-weight="normal" textLength="70" lengthAdjust="spacingAndGlyphs">RSI-based MA</text>
<text x="1274.2" y="662.8" font-size="12" fill="#131722" stroke="#131722" stroke-width="0.3" text-anchor="start" font-weight="normal" textLength="29.5" lengthAdjust="spacingAndGlyphs">45.74</text>
<rect x="1240.4" y="667.2" width="68.5" height="16.3" rx="2.5" fill="#7e57c2"/>
<text x="1245.5" y="679.6" font-size="12" fill="#fff" stroke="#fff" stroke-width="0.5" text-anchor="start" font-weight="normal" textLength="15.5" lengthAdjust="spacingAndGlyphs">RSI</text>
<text x="1274.2" y="679.6" font-size="12" fill="#fff" stroke="#fff" stroke-width="0.5" text-anchor="start" font-weight="normal" textLength="29.5" lengthAdjust="spacingAndGlyphs">43.11</text>
<path d="M1265.5,650.4V683.5" stroke="#fff" stroke-opacity="0.55" stroke-width="1"/>
<text x="77.5" y="753.3" font-size="12" fill="#131722" stroke="#131722" stroke-width="0.3" text-anchor="middle" font-weight="normal">Jun</text>
<text x="215.5" y="753.3" font-size="12" fill="#131722" stroke="#131722" stroke-width="0.3" text-anchor="middle" font-weight="normal">Jul</text>
<text x="357.5" y="753.3" font-size="12" fill="#131722" stroke="#131722" stroke-width="0.3" text-anchor="middle" font-weight="normal">Aug</text>
<text x="499.5" y="753.3" font-size="12" fill="#131722" stroke="#131722" stroke-width="0.3" text-anchor="middle" font-weight="normal">Sep</text>
<text x="637.5" y="753.3" font-size="12" fill="#131722" stroke="#131722" stroke-width="0.3" text-anchor="middle" font-weight="normal">Oct</text>
<text x="779.5" y="753.3" font-size="12" fill="#131722" stroke="#131722" stroke-width="0.3" text-anchor="middle" font-weight="normal">Nov</text>
<text x="917.5" y="753.3" font-size="12" fill="#131722" stroke="#131722" stroke-width="0.3" text-anchor="middle" font-weight="normal">Dec</text>
<text x="1059.5" y="753.3" font-size="12" fill="#131722" stroke="#131722" stroke-width="0.3" text-anchor="middle" font-weight="bold">2026</text>
<text x="1202.5" y="753.3" font-size="12" fill="#131722" stroke="#131722" stroke-width="0.3" text-anchor="middle" font-weight="normal">Feb</text>
<text x="18.4" y="45.7" font-size="12" fill="#131722" stroke="#131722" stroke-width="0.3" text-anchor="start" font-weight="normal" textLength="183.2" lengthAdjust="spacingAndGlyphs">Cardano / TetherUS · 1D · Binance</text>
<text x="210.4" y="45.7" font-size="12" fill="#131722" stroke="#131722" stroke-width="0.3" text-anchor="start" font-weight="normal" textLength="7.2" lengthAdjust="spacingAndGlyphs">O</text>
<text x="218.2" y="45.7" font-size="12" fill="#26a69a" stroke="#26a69a" stroke-width="0.3" text-anchor="start" font-weight="normal" textLength="35.5" lengthAdjust="spacingAndGlyphs">0.3390</text>
<text x="261.8" y="45.7" font-size="12" fill="#131722" stroke="#131722" stroke-width="0.3" text-anchor="start" font-weight="normal" textLength="6.2" lengthAdjust="spacingAndGlyphs">H</text>
<text x="268.7" y="45.7" font-size="12" fill="#26a69a" stroke="#26a69a" stroke-width="0.3" text-anchor="start" font-weight="normal" textLength="35.5" lengthAdjust="spacingAndGlyphs">0.3584</text>
<text x="312.4" y="45.7" font-size="12" fill="#131722" stroke="#131722" stroke-width="0.3" text-anchor="start" font-weight="normal" textLength="5" lengthAdjust="spacingAndGlyphs">L</text>
<text x="318.7" y="45.7" font-size="12" fill="#26a69a" stroke="#26a69a" stroke-width="0.3" text-anchor="start" font-weight="normal" textLength="35.5" lengthAdjust="spacingAndGlyphs">0.3388</text>
<text x="361.8" y="45.7" font-size="12" fill="#131722" stroke="#131722" stroke-width="0.3" text-anchor="start" font-weight="normal" textLength="6.4" lengthAdjust="spacingAndGlyphs">C</text>
<text x="368.7" y="45.7" font-size="12" fill="#26a69a" stroke="#26a69a" stroke-width="0.3" text-anchor="start" font-weight="normal" textLength="35.5" lengthAdjust="spacingAndGlyphs">0.3562</text>
<text x="412" y="45.7" font-size="12" fill="#26a69a" stroke="#26a69a" stroke-width="0.3" text-anchor="start" font-weight="normal" textLength="90.5" lengthAdjust="spacingAndGlyphs">+0.0171 (+5.04%)</text>
<text x="18.4" y="62.7" font-size="12" fill="#131722" stroke="#131722" stroke-width="0.3" text-anchor="start" font-weight="normal" textLength="81.2" lengthAdjust="spacingAndGlyphs">EMA (20, close)</text>
<text x="107.6" y="62.7" font-size="12" fill="#2962ff" stroke="#2962ff" stroke-width="0.3" text-anchor="start" font-weight="normal" textLength="36" lengthAdjust="spacingAndGlyphs">0.3725</text>
<text x="18.4" y="79.9" font-size="12" fill="#131722" stroke="#131722" stroke-width="0.3" text-anchor="start" font-weight="normal" textLength="81.2" lengthAdjust="spacingAndGlyphs">SMA (50, close)</text>
<text x="107.6" y="79.9" font-size="12" fill="#f23645" stroke="#f23645" stroke-width="0.3" text-anchor="start" font-weight="normal" textLength="35.6" lengthAdjust="spacingAndGlyphs">0.3832</text>
<text x="18.4" y="576.6" font-size="12" fill="#131722" stroke="#131722" stroke-width="0.3" text-anchor="start" font-weight="normal" textLength="75.6" lengthAdjust="spacingAndGlyphs">RSI (14, close)</text>
<text x="102.4" y="576.6" font-size="12" fill="#7e57c2" stroke="#7e57c2" stroke-width="0.3" text-anchor="start" font-weight="normal" textLength="28" lengthAdjust="spacingAndGlyphs">43.11</text>
<text x="138.6" y="576.6" font-size="12" fill="#fdd835" stroke="#fdd835" stroke-width="0.3" text-anchor="start" font-weight="normal" textLength="29.4" lengthAdjust="spacingAndGlyphs">45.74</text>
<g fill="#111"><path d="M12,785.2H24V800H18V791.2H12Z"/><circle cx="28.6" cy="788.1" r="3"/><path d="M32.9,785.2H41.6L35.9,800H28.8Z"/></g>
<text x="49" y="800" font-size="20.5" fill="#111" stroke="#111" stroke-width="0.3" text-anchor="start" font-weight="bold" textLength="121" lengthAdjust="spacingAndGlyphs">TradingView</text>
</svg>
</body></html>
